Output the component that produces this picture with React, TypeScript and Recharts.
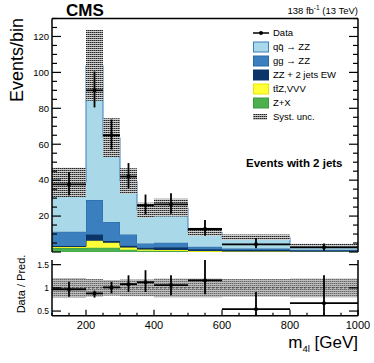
import React from "react";
import {
  ComposedChart,
  Area,
  Scatter,
  ErrorBar,
  XAxis,
  YAxis,
  ReferenceLine,
  Customized,
} from "recharts";

const FONT = "'Liberation Sans', Arial, Helvetica, sans-serif";

// bin edges in m4l [GeV]
const EDGES = [100, 200, 250, 300, 350, 400, 500, 600, 800, 1000];

// stacked predictions per bin (bottom to top)
const ZX = [2.2, 2.4, 2.4, 1.3, 0.7, 0.5, 0.2, 0.1, 0.05];
const TTZ = [0.6, 3.9, 2.8, 1.2, 0.7, 0.6, 0.3, 0.2, 0.1];
const EW = [0.5, 3.5, 0.9, 1.0, 1.0, 1.6, 1.0, 1.0, 0.8];
const GG = [8.0, 19.1, 10.6, 6.3, 2.4, 2.5, 1.4, 0.6, 0.3];
const QQ = [27.5, 75.0, 47.0, 29.7, 18.4, 19.5, 8.3, 6.3, 2.6];

// relative syst. uncertainty per bin
const SYST = [0.21, 0.19, 0.17, 0.18, 0.18, 0.2, 0.2, 0.19, 0.2];

// observed events
const DATA = [37.6, 90, 65, 42, 26, 26.5, 12.8, 4.3, 2.6];
const DATA_LO = [6.2, 9.5, 8.0, 6.5, 5.0, 5.2, 3.8, 2.2, 1.9];
const DATA_HI = [7.0, 10.5, 8.8, 7.5, 6.0, 6.2, 5.0, 3.3, 2.2];

// data / prediction
const RATIO = [0.97, 0.88, 1.01, 1.08, 1.12, 1.06, 1.16, 0.54, 0.67];
const RATIO_LO = [0.16, 0.09, 0.13, 0.17, 0.21, 0.22, 0.3, 0.4, 0.5];
const RATIO_HI = [0.16, 0.06, 0.12, 0.19, 0.26, 0.21, 0.45, 0.37, 0.6];

const X_TICKS = [100, 150, 200, 250, 300, 350, 400, 450, 500, 550, 600, 650, 700, 750, 800, 850, 900, 950, 1000];
const Y_TICKS = [0, 5, 10, 15, 20, 25, 30, 35, 40, 45, 50, 55, 60, 65, 70, 75, 80, 85, 90, 95, 100, 105, 110, 115, 120, 125, 130];
const R_TICKS = [0.5, 1, 1.5];

const C_QQ = "#a9d8e8";
const C_GG = "#3b7fbe";
const C_EW = "#0b3468";
const C_TTZ = "#ffff3a";
const C_ZX = "#4db04f";

const last = EDGES.length - 2;
const histRows = EDGES.map((x, k) => {
  const i = Math.min(k, last);
  const tot = ZX[i] + TTZ[i] + EW[i] + GG[i] + QQ[i];
  return {
    x,
    zx: ZX[i],
    ttz: TTZ[i],
    ew: EW[i],
    gg: GG[i],
    qq: QQ[i],
    syst: [tot * (1 - SYST[i]), tot * (1 + SYST[i])],
    rband: [1 - SYST[i], 1 + SYST[i]],
  };
});

const center = (i: number) => (EDGES[i] + EDGES[i + 1]) / 2;
const half = (i: number) => (EDGES[i + 1] - EDGES[i]) / 2;

const dataPts = DATA.map((y, i) => ({ x: center(i), y, ex: half(i), ey: [DATA_LO[i], DATA_HI[i]] }));
const ratioPts = RATIO.map((y, i) => ({
  x: center(i),
  y,
  ex: half(i),
  ey: [Math.min(RATIO_LO[i], y - 0.4), Math.min(RATIO_HI[i], 1.6 - y)],
}));

const Hatch = ({ id, a, b, c }: { id: string; a: string; b: string; c: string }) => (
  <defs>
    <pattern id={id} patternUnits="userSpaceOnUse" width={2} height={2}>
      <rect x={0} y={0} width={1} height={1} fill={a} />
      <rect x={1} y={0} width={1} height={1} fill={b} />
      <rect x={0} y={1} width={2} height={1} fill={c} />
    </pattern>
  </defs>
);

const YTick = (props: any) => {
  const { x, y, payload, side, labels, major, fs } = props;
  const v = payload.value;
  const isMajor = major(v);
  const len = isMajor ? 9 : 5;
  const d = side === "left" ? 1 : -1;
  return (
    <g>
      <line x1={x} x2={x + d * len} y1={y} y2={y} stroke="#000" strokeWidth={1.2} />
      {labels && isMajor && v !== 0 && (
        <text x={x - 3} y={y} dy="0.35em" textAnchor="end" fontSize={fs} fontFamily={FONT} fill="#000">
          {v}
        </text>
      )}
    </g>
  );
};

const XTick = (props: any) => {
  const { x, y, payload, side, labels, big, small } = props;
  const v = payload.value;
  const isMajor = v % 200 === 0;
  const len = isMajor ? big : small;
  const d = side === "bottom" ? -1 : 1;
  return (
    <g>
      <line x1={x} x2={x} y1={y} y2={y + d * len} stroke="#000" strokeWidth={1.2} />
      {labels && isMajor && (
        <text x={x} y={y + 13.5} textAnchor="middle" fontSize={11} fontFamily={FONT} fill="#000">
          {v}
        </text>
      )}
    </g>
  );
};

const Dot = (props: any) => <circle cx={props.cx} cy={props.cy} r={2} fill="#000" />;

const LEGEND = [
  { name: "Data", kind: "data" },
  { name: "q\u0071\u0304 \u2192 ZZ", kind: "box", fill: C_QQ, stroke: "#3b7fbe" },
  { name: "gg \u2192 ZZ", kind: "box", fill: C_GG, stroke: "#2c6aa6" },
  { name: "ZZ + 2 jets EW", kind: "box", fill: C_EW, stroke: C_EW },
  { name: "t\u0074\u0304Z,VVV", kind: "box", fill: C_TTZ, stroke: "#e6e600" },
  { name: "Z+X", kind: "box", fill: C_ZX, stroke: "#3d9a40" },
  { name: "Syst. unc.", kind: "syst" },
];

const MainDecor = () => (
  <g fontFamily={FONT}>
    <text x={66} y={16} fontSize={17} fontWeight="bold" fill="#000">CMS</text>
    <text x={358} y={14} fontSize={9.5} textAnchor="end" fill="#000">
      138 fb<tspan dy={-4} fontSize={6.5}>-1</tspan>
      <tspan dy={4}> (13 TeV)</tspan>
    </text>
    <text x={23} y={18} fontSize={18} textAnchor="end" transform="rotate(-90 23 18)" fill="#000">
      Events/bin
    </text>
    {LEGEND.map((e, k) => {
      const cy = 33 + k * 14;
      return (
        <g key={e.name}>
          {e.kind === "data" && (
            <g>
              <line x1={253} x2={269} y1={cy} y2={cy} stroke="#000" strokeWidth={1.5} />
              <circle cx={261} cy={cy} r={2} fill="#000" />
            </g>
          )}
          {e.kind === "box" && (
            <rect x={253.5} y={cy - 5} width={15} height={10} fill={e.fill} stroke={e.stroke} strokeWidth={1} />
          )}
          {e.kind === "syst" && <rect x={253} y={cy - 3} width={14} height={6} fill="url(#hatchMain)" />}
          <text x={273} y={cy} dy="0.35em" fontSize={9.5} fill="#000">{e.name}</text>
        </g>
      );
    })}
    <text x={246} y={167} fontSize={11.5} fontWeight="bold" fill="#000">Events with 2 jets</text>
  </g>
);

const RatioDecor = () => (
  <g fontFamily={FONT} fill="#000">
    <text x={25} y={31} fontSize={11} textAnchor="middle" transform="rotate(-90 25 31)">
      Data / Pred.
    </text>
    <text x={358} y={95} fontSize={17} textAnchor="end">
      m<tspan dy={4} fontSize={9.5}>4l</tspan>
      <tspan dy={-4}> [GeV]</tspan>
    </text>
  </g>
);

const TopTick = (props: any) => <XTick {...props} side="top" labels={false} />;

export default function App() {
  return (
    <div style={{ position: "absolute", left: 0, top: 0, width: 374, height: 363, background: "#fff", fontFamily: FONT }}>
      <div style={{ position: "absolute", left: 0, top: 0 }}>
        <ComposedChart width={374} height={253} data={histRows} margin={{ top: 18.5, right: 0, bottom: 1, left: 0 }}>
          <Hatch id="hatchMain" a="#222" b="#777" c="#cfcfcf" />
          <XAxis
            xAxisId="b"
            dataKey="x"
            type="number"
            domain={[100, 1000]}
            ticks={X_TICKS}
            allowDataOverflow
            height={0}
            tickSize={0}
            tickMargin={0}
            axisLine={{ stroke: "#000", strokeWidth: 1.5 }}
            tick={<XTick side="bottom" labels={false} big={8} small={4} />}
            interval={0}
          />
          <XAxis
            xAxisId="t"
            orientation="top"
            dataKey="x"
            type="number"
            domain={[100, 1000]}
            ticks={X_TICKS}
            allowDataOverflow
            height={0}
            tickSize={0}
            tickMargin={0}
            axisLine={{ stroke: "#000", strokeWidth: 1.5 }}
            tick={<TopTick big={8} small={4} />}
            interval={0}
          />
          <YAxis
            yAxisId="l"
            type="number"
            domain={[0, 130]}
            ticks={Y_TICKS}
            allowDataOverflow
            width={52}
            tickSize={0}
            tickMargin={0}
            interval={0}
            axisLine={{ stroke: "#000", strokeWidth: 1.5 }}
            tick={<YTick side="left" labels major={(v: number) => v % 20 === 0} fs={9.5} />}
          />
          <YAxis
            yAxisId="r"
            orientation="right"
            type="number"
            domain={[0, 130]}
            ticks={Y_TICKS}
            allowDataOverflow
            width={16}
            tickSize={0}
            tickMargin={0}
            interval={0}
            axisLine={{ stroke: "#000", strokeWidth: 1.5 }}
            tick={<YTick side="right" labels={false} major={(v: number) => v % 20 === 0} fs={9.5} />}
          />
          <Area xAxisId="b" yAxisId="l" type="stepAfter" dataKey="zx" stackId="s" fill={C_ZX} fillOpacity={1} stroke="#3d9a40" strokeWidth={1} isAnimationActive={false} />
          <Area xAxisId="b" yAxisId="l" type="stepAfter" dataKey="ttz" stackId="s" fill={C_TTZ} fillOpacity={1} stroke="#e6e600" strokeWidth={1} isAnimationActive={false} />
          <Area xAxisId="b" yAxisId="l" type="stepAfter" dataKey="ew" stackId="s" fill={C_EW} fillOpacity={1} stroke={C_EW} strokeWidth={1} isAnimationActive={false} />
          <Area xAxisId="b" yAxisId="l" type="stepAfter" dataKey="gg" stackId="s" fill={C_GG} fillOpacity={1} stroke="#2c6aa6" strokeWidth={1} isAnimationActive={false} />
          <Area xAxisId="b" yAxisId="l" type="stepAfter" dataKey="qq" stackId="s" fill={C_QQ} fillOpacity={1} stroke="#3b7fbe" strokeWidth={1} isAnimationActive={false} />
          <Area xAxisId="b" yAxisId="l" type="stepAfter" dataKey="syst" fill="url(#hatchMain)" fillOpacity={1} stroke="none" isAnimationActive={false} />
          <ReferenceLine xAxisId="b" yAxisId="l" y={130} stroke="#000" strokeWidth={1.5} />
          <Scatter xAxisId="b" yAxisId="l" data={dataPts} dataKey="y" shape={<Dot />} isAnimationActive={false}>
            <ErrorBar dataKey="ex" direction="x" width={0} stroke="#000" strokeWidth={1.8} />
            <ErrorBar dataKey="ey" direction="y" width={0} stroke="#000" strokeWidth={1.8} />
          </Scatter>
          <Customized component={<MainDecor />} />
        </ComposedChart>
      </div>
      <div style={{ position: "absolute", left: 0, top: 253 }}>
        <ComposedChart width={374} height={110} data={histRows} margin={{ top: 7, right: 0, bottom: 0, left: 0 }}>
          <Hatch id="hatchRatio" a="#666" b="#9a9a9a" c="#bdbdbd" />
          <XAxis
            xAxisId="b"
            dataKey="x"
            type="number"
            domain={[100, 1000]}
            ticks={X_TICKS}
            allowDataOverflow
            height={47.3}
            tickSize={0}
            tickMargin={0}
            interval={0}
            axisLine={{ stroke: "#000", strokeWidth: 1.5 }}
            tick={<XTick side="bottom" labels big={6} small={3} />}
          />
          <XAxis
            xAxisId="t"
            orientation="top"
            dataKey="x"
            type="number"
            domain={[100, 1000]}
            ticks={X_TICKS}
            allowDataOverflow
            height={0}
            tickSize={0}
            tickMargin={0}
            interval={0}
            axisLine={{ stroke: "#000", strokeWidth: 1.5 }}
            tick={<TopTick big={6} small={3} />}
          />
          <YAxis
            yAxisId="l"
            type="number"
            domain={[0.4, 1.6]}
            ticks={R_TICKS}
            allowDataOverflow
            width={52}
            tickSize={0}
            tickMargin={0}
            interval={0}
            axisLine={{ stroke: "#000", strokeWidth: 1.5 }}
            tick={<YTick side="left" labels major={() => true} fs={8.5} />}
          />
          <YAxis
            yAxisId="r"
            orientation="right"
            type="number"
            domain={[0.4, 1.6]}
            ticks={R_TICKS}
            allowDataOverflow
            width={16}
            tickSize={0}
            tickMargin={0}
            interval={0}
            axisLine={{ stroke: "#000", strokeWidth: 1.5 }}
            tick={<YTick side="right" labels={false} major={() => true} fs={8.5} />}
          />
          <Area xAxisId="b" yAxisId="l" type="stepAfter" dataKey="rband" fill="url(#hatchRatio)" fillOpacity={1} stroke="none" isAnimationActive={false} />
          <ReferenceLine xAxisId="b" yAxisId="l" y={1} stroke="#444" strokeDasharray="2 2" strokeWidth={1} />
          <Scatter xAxisId="b" yAxisId="l" data={ratioPts} dataKey="y" shape={<Dot />} isAnimationActive={false}>
            <ErrorBar dataKey="ex" direction="x" width={0} stroke="#000" strokeWidth={1.8} />
            <ErrorBar dataKey="ey" direction="y" width={0} stroke="#000" strokeWidth={1.8} />
          </Scatter>
          <Customized component={<RatioDecor />} />
        </ComposedChart>
      </div>
    </div>
  );
}
